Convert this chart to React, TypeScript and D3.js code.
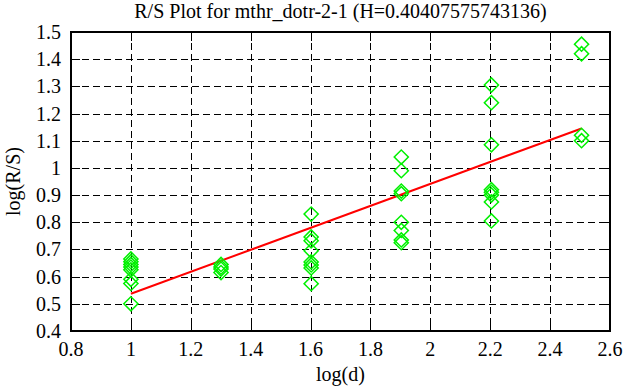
import * as d3 from "d3";
import React, { useEffect, useRef } from "react";

// log(d) per group and the log(R/S) values
const logD = [1.0, 1.301, 1.602, 1.903, 2.204, 2.505];
const logRS = [
  [0.665, 0.655, 0.645, 0.635, 0.625, 0.59, 0.575, 0.5],
  [0.645, 0.635, 0.628, 0.615],
  [0.83, 0.746, 0.732, 0.695, 0.654, 0.643, 0.632, 0.574],
  [1.04, 0.99, 0.915, 0.905, 0.8, 0.77, 0.735, 0.725],
  [1.305, 1.24, 1.085, 0.92, 0.91, 0.9, 0.875, 0.805],
  [1.455, 1.42, 1.12, 1.1],
];
const hurst = 0.40407575743136;
const intercept = 0.133;
const xTicks = [0.8, 1, 1.2, 1.4, 1.6, 1.8, 2, 2.2, 2.4, 2.6];
const yTicks = [0.4, 0.5, 0.6, 0.7, 0.8, 0.9, 1, 1.1, 1.2, 1.3, 1.4, 1.5];
const title = "R/S Plot for mthr_dotr-2-1 (H=0.40407575743136)";

const App = () => {
  const svgRef = useRef<SVGSVGElement>(null);

  useEffect(() => {
    const w = 626;
    const h = 387;
    const left = 71, right = 610, top = 32, bottom = 331;
    const font = "'Liberation Serif', 'Times New Roman', serif";

    const x = d3.scaleLinear().domain([0.8, 2.6]).range([left, right]);
    const y = d3.scaleLinear().domain([0.4, 1.5]).range([bottom, top]);

    const svg = d3.select(svgRef.current).attr("width", w).attr("height", h);
    svg.selectAll("*").remove();

    svg.append("rect").attr("width", w).attr("height", h).attr("fill", "white");

    // grilla punteada
    const grid = svg.append("g").attr("stroke", "black").attr("stroke-width", 1).attr("stroke-dasharray", "7,4");
    xTicks.slice(1, -1).forEach(t => {
      grid.append("line").attr("x1", Math.round(x(t)) + 0.5).attr("x2", Math.round(x(t)) + 0.5)
        .attr("y1", top).attr("y2", bottom);
    });
    yTicks.slice(1, -1).forEach(t => {
      grid.append("line").attr("y1", Math.round(y(t)) + 0.5).attr("y2", Math.round(y(t)) + 0.5)
        .attr("x1", left).attr("x2", right);
    });

    // marcas hacia adentro
    const ticks = svg.append("g").attr("stroke", "black").attr("stroke-width", 1);
    xTicks.slice(1, -1).forEach(t => {
      const px = Math.round(x(t)) + 0.5;
      ticks.append("line").attr("x1", px).attr("x2", px).attr("y1", bottom).attr("y2", bottom - 9);
      ticks.append("line").attr("x1", px).attr("x2", px).attr("y1", top).attr("y2", top + 9);
    });
    yTicks.slice(1, -1).forEach(t => {
      const py = Math.round(y(t)) + 0.5;
      ticks.append("line").attr("y1", py).attr("y2", py).attr("x1", left).attr("x2", left + 9);
      ticks.append("line").attr("y1", py).attr("y2", py).attr("x1", right).attr("x2", right - 9);
    });

    // linea de ajuste
    svg.append("line")
      .attr("x1", x(logD[0])).attr("y1", y(intercept + hurst * logD[0]))
      .attr("x2", x(logD[logD.length - 1])).attr("y2", y(intercept + hurst * logD[logD.length - 1]))
      .attr("stroke", "#ff0000").attr("stroke-width", 2);

    // puntos (rombos)
    const pts = logD.flatMap((d, i) => logRS[i].map(v => ({ d, v })));
    const diamond = d3.symbol().type(d3.symbolSquare).size(100);
    svg.append("g").selectAll("path")
      .data(pts)
      .enter()
      .append("path")
      .attr("d", diamond() as string)
      .attr("transform", p => `translate(${x(p.d)},${y(p.v)}) rotate(45)`)
      .attr("fill", "none")
      .attr("stroke", "#00f000")
      .attr("stroke-width", 1.5);

    // borde
    svg.append("rect")
      .attr("x", left).attr("y", top).attr("width", right - left).attr("height", bottom - top)
      .attr("fill", "none").attr("stroke", "black").attr("stroke-width", 2);

    // etiquetas
    const labels = svg.append("g").attr("font-family", font).attr("font-size", 20).attr("fill", "black");
    xTicks.forEach(t => {
      labels.append("text").attr("x", x(t)).attr("y", bottom + 25).attr("text-anchor", "middle").text(String(t));
    });
    yTicks.forEach(t => {
      labels.append("text").attr("x", left - 10).attr("y", y(t) + 7).attr("text-anchor", "end").text(String(t));
    });

    labels.append("text").attr("x", (left + right) / 2).attr("y", 18).attr("text-anchor", "middle").text(title);
    labels.append("text").attr("x", (left + right) / 2).attr("y", 381).attr("text-anchor", "middle").text("log(d)");
    labels.append("text")
      .attr("transform", `translate(20,${(top + bottom) / 2}) rotate(-90)`)
      .attr("text-anchor", "middle").text("log(R/S)");
  }, []);

  return <svg ref={svgRef} style={{ position: "absolute", left: 0, top: 0 }} />;
};

export default App;
